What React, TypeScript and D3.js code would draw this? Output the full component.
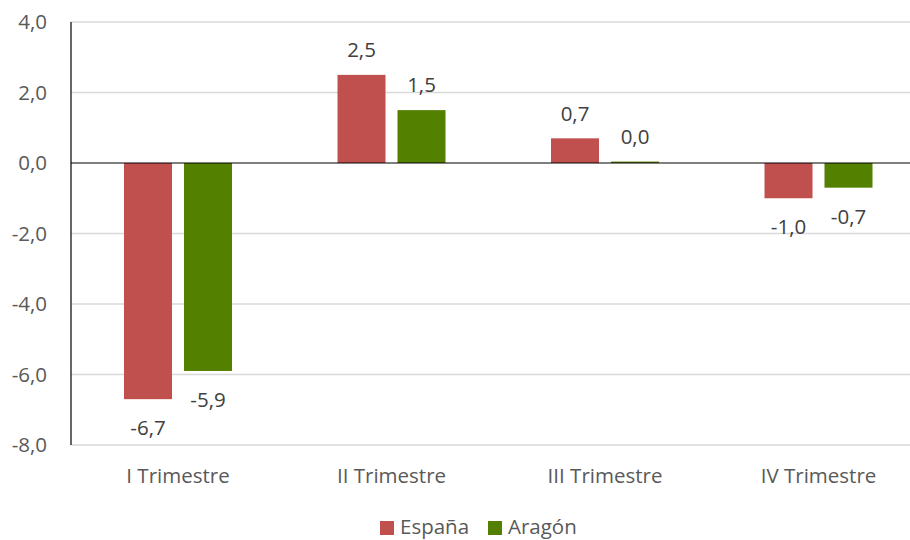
import React from "react";
import * as d3 from "d3";

const categories = ["I Trimestre", "II Trimestre", "III Trimestre", "IV Trimestre"];
const seriesNames = ["España", "Aragón"];
const espana = [-6.7, 2.5, 0.7, -1.0];
const aragon = [-5.9, 1.5, 0.04, -0.7];
const yTicks = [-8, -6, -4, -2, 0, 2, 4];
const colors = ["#C0504D", "#548000"];

const W = 910;
const H = 540;
const FONT = "'Open Sans', Lato, sans-serif";
const FS = 20.5;

export default function App() {
  const x0 = 71.25;
  const x = d3.scaleBand<string>().domain(categories).range([x0, x0 + 854]).paddingInner(0).paddingOuter(0);
  const y = d3.scaleLinear().domain([-8, 4]).range([445, 22]);
  const fmt = (v: number) => d3.format(".1f")(v).replace(".", ",").replace("−", "-");
  const series = [espana, aragon];
  const barW = 48;
  const gap = 12;

  return (
    <svg width={W} height={H} style={{ position: "absolute", left: 0, top: 0 }} fontFamily={FONT}>
      <rect x={0} y={0} width={W} height={H} fill="#fff" />
      {yTicks.map((t) => (
        <g key={t}>
          {t !== 0 && <line x1={71} x2={W} y1={y(t)} y2={y(t)} stroke="#d9d9d9" strokeWidth={1.5} />}
          <text x={47} y={y(t)} dy="0.35em" textAnchor="end" fontSize={FS} fill="#595959">
            {fmt(t)}
          </text>
        </g>
      ))}
      {categories.map((c, i) => {
        const cx = (x(c) as number) + x.bandwidth() / 2;
        return (
          <g key={c}>
            {series.map((s, j) => {
              const v = s[i];
              const bx = cx - gap / 2 - barW + j * (barW + gap);
              const y1 = Math.min(y(v), y(0));
              const h = Math.abs(y(v) - y(0));
              const ly = v >= 0 ? y(v) - 25 : y(v) + 29;
              return (
                <g key={j}>
                  <rect x={bx} y={y1} width={barW} height={Math.max(h, 1)} fill={colors[j]} />
                  <text x={bx + barW / 2} y={ly} dy="0.35em" textAnchor="middle" fontSize={FS} fill="#404040">
                    {fmt(v)}
                  </text>
                </g>
              );
            })}
            <text x={cx} y={476} dy="0.35em" textAnchor="middle" fontSize={FS} fill="#595959">
              {c}
            </text>
          </g>
        );
      })}
      <line x1={71} x2={W} y1={y(0)} y2={y(0)} stroke="#000" strokeWidth={1.2} />
      <line x1={71} x2={71} y1={y(4)} y2={y(-8)} stroke="#000" strokeWidth={1.2} />
      <g>
        <rect x={380} y={521} width={14} height={14} fill={colors[0]} />
        <text x={400} y={527} dy="0.35em" fontSize={FS} fill="#595959">{seriesNames[0]}</text>
        <rect x={488} y={521} width={14} height={14} fill={colors[1]} />
        <text x={508} y={527} dy="0.35em" fontSize={FS} fill="#595959">{seriesNames[1]}</text>
      </g>
    </svg>
  );
}
